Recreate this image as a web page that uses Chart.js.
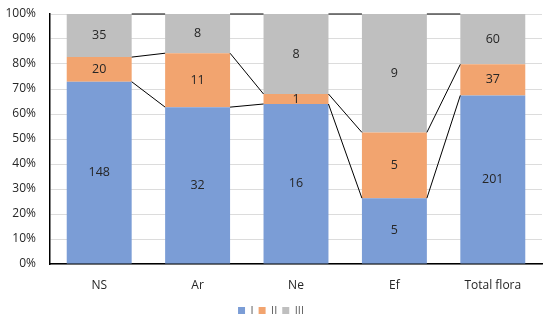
<!DOCTYPE html>
<html>
<head>
<meta charset="utf-8">
<script src="https://cdn.jsdelivr.net/npm/chart.js@4"></script>
<style>
  html, body { margin: 0; padding: 0; background: #fff; }
  #wrap { width: 550px; height: 326px; }
</style>
</head>
<body>
<div id="wrap"><canvas id="chartOne" width="550" height="326"></canvas></div>
<script>
const categories = ['NS', 'Ar', 'Ne', 'Ef', 'Total flora'];
const seriesNames = ['I', 'II', 'III'];
const countsI = [148, 32, 16, 5, 201];
const countsII = [20, 11, 1, 5, 37];
const countsIII = [35, 8, 8, 9, 60];
const tickLabels = ['0%', '10%', '20%', '30%', '40%', '50%', '60%', '70%', '80%', '90%', '100%'];

const counts = [countsI, countsII, countsIII];
const totals = categories.map((c, i) => countsI[i] + countsII[i] + countsIII[i]);
const colors = ['#7b9dd6', '#f2a46f', '#bfbfbf'];

// counts -> share of column, in percent
function toPercent(arr) {
    return arr.map((v, i) => v / totals[i] * 100);
}

// Excel-style series lines between the columns, plus the count labels
const seriesLines = {
    id: 'seriesLines',
    afterDatasetsDraw(chart) {
        const ctx = chart.ctx;
        const y = chart.scales.y;
        ctx.save();
        ctx.strokeStyle = '#000';
        ctx.lineWidth = 1;
        let cum = categories.map(() => 0);
        for (let d = 0; d < counts.length; d++) {
            const meta = chart.getDatasetMeta(d);
            cum = cum.map((c, i) => c + counts[d][i] / totals[i] * 100);
            for (let i = 0; i < categories.length - 1; i++) {
                const a = meta.data[i];
                const b = meta.data[i + 1];
                ctx.beginPath();
                ctx.moveTo(a.x + a.width / 2, y.getPixelForValue(cum[i]));
                ctx.lineTo(b.x - b.width / 2, y.getPixelForValue(cum[i + 1]));
                ctx.stroke();
            }
        }
        ctx.fillStyle = '#262626';
        ctx.font = '12.5px "Open Sans"';
        ctx.textAlign = 'center';
        ctx.textBaseline = 'middle';
        for (let d = 0; d < counts.length; d++) {
            const meta = chart.getDatasetMeta(d);
            meta.data.forEach((bar, i) => {
                ctx.fillText(String(counts[d][i]), bar.x, (bar.y + bar.base) / 2);
            });
        }
        ctx.restore();
    }
};

new Chart(document.getElementById('chartOne').getContext('2d'), {
    type: 'bar',
    data: {
        labels: categories,
        datasets: counts.map((arr, d) => ({
            label: seriesNames[d],
            data: toPercent(arr),
            backgroundColor: colors[d],
            borderWidth: 0,
            categoryPercentage: 1,
            barPercentage: 0.66
        }))
    },
    options: {
        responsive: false,
        animation: false,
        layout: { padding: { left: 0, right: 8, top: 14, bottom: 0 } },
        plugins: {
            legend: {
                position: 'bottom',
                labels: {
                    boxWidth: 7,
                    boxHeight: 7,
                    padding: 5,
                    color: '#595959',
                    font: { family: 'Open Sans', size: 11 }
                }
            },
            tooltip: { enabled: false }
        },
        scales: {
            x: {
                stacked: true,
                grid: { display: false },
                border: { color: '#000', width: 1.5 },
                ticks: { color: '#262626', font: { family: 'Open Sans', size: 12 }, padding: 6 },
                afterFit(scale) { scale.height = 36; scale.paddingLeft = 0; scale.paddingRight = 0; }
            },
            y: {
                stacked: true,
                min: 0,
                max: 100,
                grid: { color: '#dcdcdc', drawTicks: false },
                border: { color: '#000', width: 1.5 },
                ticks: {
                    stepSize: 10,
                    padding: 14,
                    color: '#262626',
                    font: { family: 'Open Sans', size: 12 },
                    callback: (v, i) => tickLabels[i]
                },
                afterFit(scale) { scale.width = 50; scale.paddingTop = 0; scale.paddingBottom = 0; }
            }
        }
    },
    plugins: [seriesLines]
});
</script>
</body>
</html>
